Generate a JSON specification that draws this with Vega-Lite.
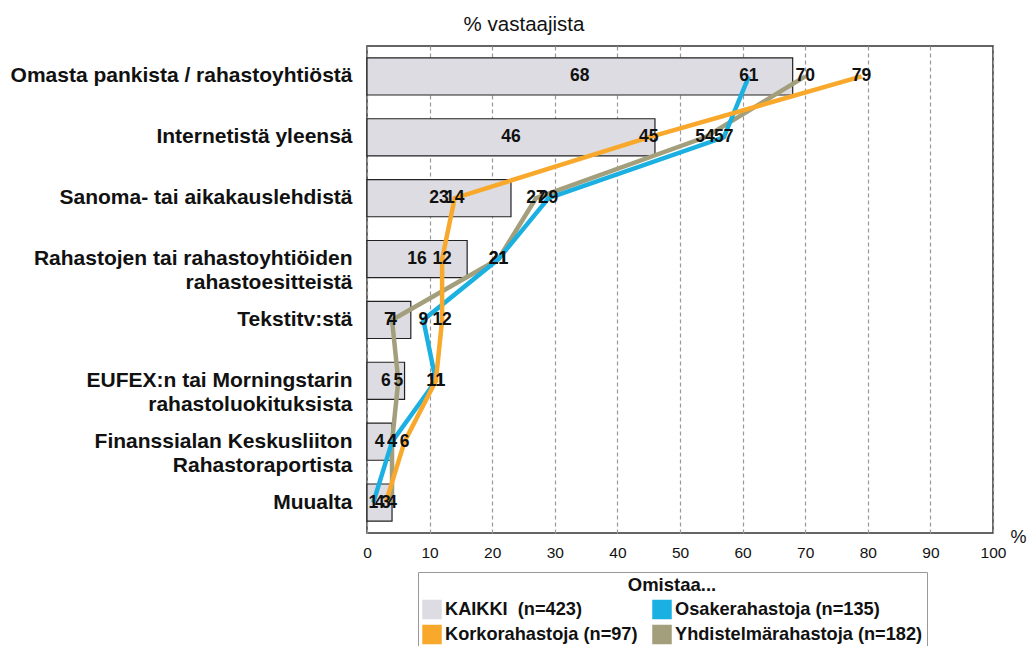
{
  "$schema": "https://vega.github.io/schema/vega-lite/v6.json",
  "width": 626,
  "height": 487,
  "autosize": "none",
  "padding": {"left": 367, "top": 46, "right": 36, "bottom": 113},
  "background": "white",
  "title": {"text": "% vastaajista", "font": "Liberation Sans", "fontSize": 20.5, "fontWeight": "normal", "color": "#111", "anchor": "middle", "dx": -156, "offset": 11},
  "config": {
    "font": "Liberation Sans",
    "view": {"stroke": "#333", "strokeWidth": 1.5},
    "axisX": {"grid": true, "gridDash": [4, 3], "gridColor": "#999", "gridWidth": 1.2, "domain": false, "ticks": false, "tickCount": 10, "labelFlush": false, "labelFontSize": 15.5, "labelColor": "#111", "labelPadding": 12, "titleFontSize": 18, "titleFontWeight": "normal", "titleColor": "#111", "titleX": 651, "titleY": 4, "titleBaseline": "middle", "titleAlign": "center"},
    "axisY": {"domain": false, "ticks": false, "grid": false, "labelFontSize": 21, "labelFontWeight": "bold", "labelColor": "#111", "labelPadding": 15, "labelLineHeight": 24, "labelLimit": 400, "labelExpr": "split(datum.label, '|')"},
    "legend": {
      "orient": "none", "legendX": 51, "legendY": 526,
      "columns": 2, "columnPadding": 12, "rowPadding": 1,
      "strokeColor": "#999", "fillColor": "white", "padding": 4,
      "titleFontSize": 18.5, "titleFontWeight": "bold", "titleColor": "#111", "titleAnchor": "middle", "titlePadding": 5,
      "labelFontSize": 18.2, "labelFontWeight": "bold", "labelColor": "#111", "labelOffset": 3, "labelLimit": 400,
      "symbolSize": 324
    }
  },
  "data": {"values": [
    {"cat": "Omasta pankista / rahastoyhtiöstä", "i": 1, "series": "KAIKKI\u00a0 (n=423)", "v": 68},
    {"cat": "Internetistä yleensä", "i": 2, "series": "KAIKKI\u00a0 (n=423)", "v": 46},
    {"cat": "Sanoma- tai aikakauslehdistä", "i": 3, "series": "KAIKKI\u00a0 (n=423)", "v": 23},
    {"cat": "Rahastojen tai rahastoyhtiöiden|rahastoesitteistä", "i": 4, "series": "KAIKKI\u00a0 (n=423)", "v": 16},
    {"cat": "Tekstitv:stä", "i": 5, "series": "KAIKKI\u00a0 (n=423)", "v": 7},
    {"cat": "EUFEX:n tai Morningstarin|rahastoluokituksista", "i": 6, "series": "KAIKKI\u00a0 (n=423)", "v": 6},
    {"cat": "Finanssialan Keskusliiton|Rahastoraportista", "i": 7, "series": "KAIKKI\u00a0 (n=423)", "v": 4},
    {"cat": "Muualta", "i": 8, "series": "KAIKKI\u00a0 (n=423)", "v": 4},
    {"cat": "Omasta pankista / rahastoyhtiöstä", "i": 1, "series": "Yhdistelmärahastoja (n=182)", "v": 70},
    {"cat": "Internetistä yleensä", "i": 2, "series": "Yhdistelmärahastoja (n=182)", "v": 54},
    {"cat": "Sanoma- tai aikakauslehdistä", "i": 3, "series": "Yhdistelmärahastoja (n=182)", "v": 27},
    {"cat": "Rahastojen tai rahastoyhtiöiden|rahastoesitteistä", "i": 4, "series": "Yhdistelmärahastoja (n=182)", "v": 21},
    {"cat": "Tekstitv:stä", "i": 5, "series": "Yhdistelmärahastoja (n=182)", "v": 4},
    {"cat": "EUFEX:n tai Morningstarin|rahastoluokituksista", "i": 6, "series": "Yhdistelmärahastoja (n=182)", "v": 5},
    {"cat": "Finanssialan Keskusliiton|Rahastoraportista", "i": 7, "series": "Yhdistelmärahastoja (n=182)", "v": 4},
    {"cat": "Muualta", "i": 8, "series": "Yhdistelmärahastoja (n=182)", "v": 4},
    {"cat": "Omasta pankista / rahastoyhtiöstä", "i": 1, "series": "Osakerahastoja (n=135)", "v": 61},
    {"cat": "Internetistä yleensä", "i": 2, "series": "Osakerahastoja (n=135)", "v": 57},
    {"cat": "Sanoma- tai aikakauslehdistä", "i": 3, "series": "Osakerahastoja (n=135)", "v": 29},
    {"cat": "Rahastojen tai rahastoyhtiöiden|rahastoesitteistä", "i": 4, "series": "Osakerahastoja (n=135)", "v": 21},
    {"cat": "Tekstitv:stä", "i": 5, "series": "Osakerahastoja (n=135)", "v": 9},
    {"cat": "EUFEX:n tai Morningstarin|rahastoluokituksista", "i": 6, "series": "Osakerahastoja (n=135)", "v": 11},
    {"cat": "Finanssialan Keskusliiton|Rahastoraportista", "i": 7, "series": "Osakerahastoja (n=135)", "v": 4},
    {"cat": "Muualta", "i": 8, "series": "Osakerahastoja (n=135)", "v": 1},
    {"cat": "Omasta pankista / rahastoyhtiöstä", "i": 1, "series": "Korkorahastoja (n=97)", "v": 79},
    {"cat": "Internetistä yleensä", "i": 2, "series": "Korkorahastoja (n=97)", "v": 45},
    {"cat": "Sanoma- tai aikakauslehdistä", "i": 3, "series": "Korkorahastoja (n=97)", "v": 14},
    {"cat": "Rahastojen tai rahastoyhtiöiden|rahastoesitteistä", "i": 4, "series": "Korkorahastoja (n=97)", "v": 12},
    {"cat": "Tekstitv:stä", "i": 5, "series": "Korkorahastoja (n=97)", "v": 12},
    {"cat": "EUFEX:n tai Morningstarin|rahastoluokituksista", "i": 6, "series": "Korkorahastoja (n=97)", "v": 11},
    {"cat": "Finanssialan Keskusliiton|Rahastoraportista", "i": 7, "series": "Korkorahastoja (n=97)", "v": 6},
    {"cat": "Muualta", "i": 8, "series": "Korkorahastoja (n=97)", "v": 3}
  ]},
  "encoding": {
    "y": {"field": "cat", "type": "nominal", "sort": null, "title": null,
          "scale": {"paddingInner": 0.39, "paddingOuter": 0.195}}
  },
  "layer": [
    {
      "transform": [{"filter": "indexof(datum.series, 'KAIKKI') == 0"}],
      "mark": {"type": "bar", "stroke": "#222", "strokeWidth": 1.2},
      "encoding": {
        "x": {"field": "v", "type": "quantitative", "title": "%", "scale": {"domain": [0, 100], "nice": false}},
        "color": {"field": "series", "type": "nominal",
          "scale": {"domain": ["KAIKKI\u00a0 (n=423)", "Korkorahastoja (n=97)", "Osakerahastoja (n=135)", "Yhdistelmärahastoja (n=182)"],
                    "range": ["#dcdce2", "#f8a92c", "#1ab0e2", "#a39f7c"]},
          "legend": {"title": "Omistaa..."}}
      }
    },
    {
      "transform": [{"filter": "indexof(datum.series, 'KAIKKI') == 0"}, {"calculate": "datum.v / 2", "as": "mid"}],
      "mark": {"type": "text", "font": "Liberation Sans", "fontSize": 17.5, "fontWeight": "bold", "color": "#111", "align": "center", "baseline": "middle"},
      "encoding": {
        "x": {"field": "mid", "type": "quantitative", "title": "%"},
        "text": {"field": "v", "type": "quantitative"}
      }
    },
    {
      "transform": [{"filter": "indexof(datum.series, 'KAIKKI') != 0"}],
      "mark": {"type": "line", "strokeWidth": 4.5, "strokeJoin": "miter"},
      "encoding": {
        "x": {"field": "v", "type": "quantitative", "title": "%"},
        "color": {"field": "series", "type": "nominal", "legend": {"title": "Omistaa..."}},
        "order": {"field": "i", "type": "quantitative"}
      }
    },
    {
      "transform": [{"filter": "indexof(datum.series, 'KAIKKI') != 0"}],
      "mark": {"type": "text", "font": "Liberation Sans", "fontSize": 17.5, "fontWeight": "bold", "color": "#111", "align": "center", "baseline": "middle"},
      "encoding": {
        "x": {"field": "v", "type": "quantitative", "title": "%"},
        "text": {"field": "v", "type": "quantitative"}
      }
    }
  ]
}
